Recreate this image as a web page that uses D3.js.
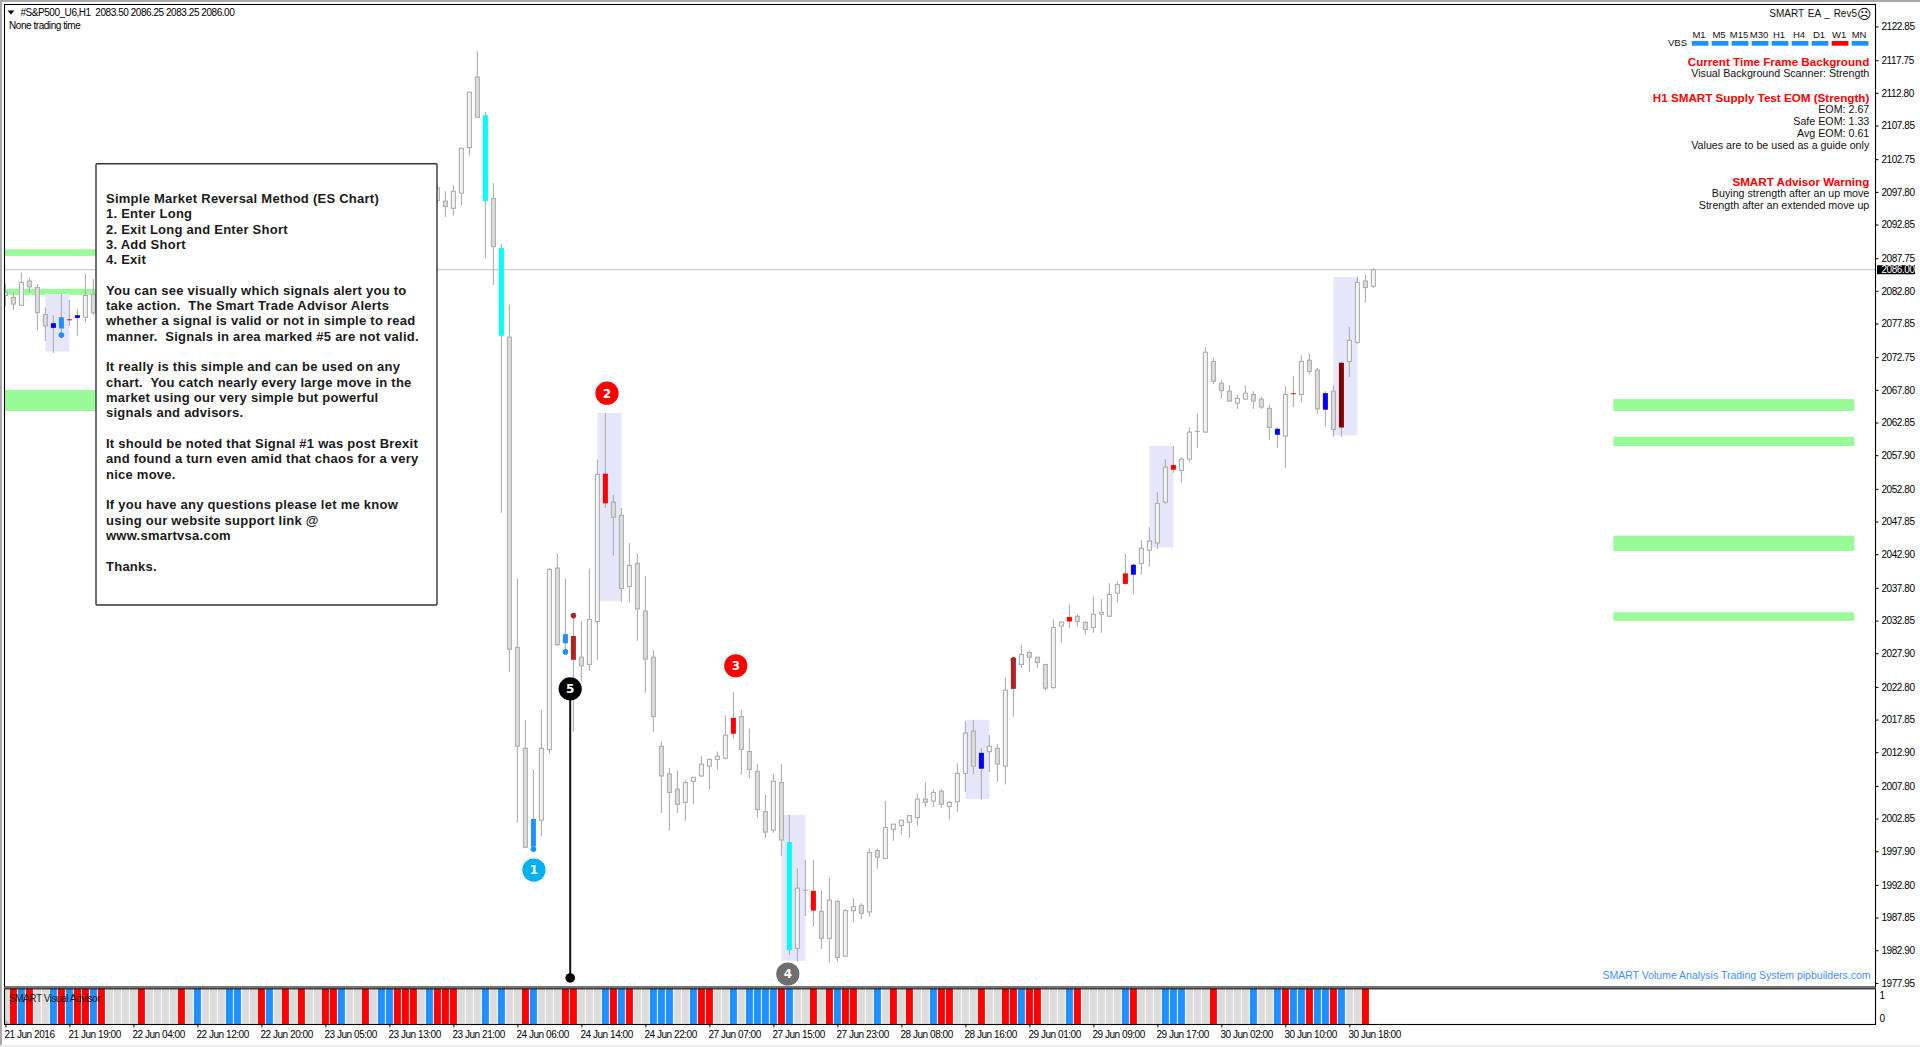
<!DOCTYPE html>
<html>
<head>
<meta charset="utf-8">
<title>#S&amp;P500_U6,H1</title>
<script src="https://cdn.jsdelivr.net/npm/d3@7"></script>
<style>
    html, body { margin: 0; padding: 0; background: #fff; }
    svg { display: block; font-family: "Liberation Sans", Arial, sans-serif; }
    .axis path { display: none; }
    .axis line { stroke: #000; }
    .axis text, .tight { fill: #000; font-size: 10px; letter-spacing: -0.45px; font-family: "Liberation Sans", Arial, sans-serif; }
</style>
</head>
<body>
<svg id="chart" width="1920" height="1047"></svg>
<script>
// DATA //

// Bars 12..53 sit behind the note box and could not be read
const barNumbers = d3.range(0, 12).concat(d3.range(54, 172));

const highs = [
    2083.8, 2082.6, 2085.6, 2084.7, 2083.8, 2080.3, 2079.1, 2082.3, 2081.4, 2080.0, 2085.4, 2084.6,
    2098.7, 2097.9, 2098.8, 2104.5, 2112.9, 2119.1, 2109.9, 2099.1, 2089.9, 2080.7,
    2039.2, 2017.8, 2010.3, 2019.3, 2040.8, 2043.0, 2039.2, 2033.6, 2032.8, 2040.7,
    2057.3, 2064.3, 2051.9, 2049.9, 2044.6, 2043.0, 2039.6, 2028.4, 2014.6, 2010.5,
    2010.1, 2008.6, 2009.1, 2012.3, 2012.0, 2013.0, 2018.5, 2022.0, 2019.3, 2016.5,
    2011.1, 2006.5, 2009.6, 2011.1, 2003.4, 1995.3, 1996.6, 1996.6, 1992.0, 1993.9,
    1990.5, 1989.2, 1990.8, 1990.0, 1998.3, 1998.3, 2005.5, 2002.0, 2002.6, 2003.4,
    2006.6, 2008.3, 2007.3, 2007.3, 2005.5, 2011.2, 2017.6, 2017.8, 2013.5, 2015.5,
    2014.1, 2024.3, 2027.3, 2029.2, 2028.3, 2027.3, 2026.2, 2033.0, 2032.7, 2035.3,
    2033.8, 2032.7, 2036.5, 2036.1, 2038.5, 2038.8, 2043.0, 2041.5, 2045.0, 2047.0,
    2052.3, 2057.3, 2059.3, 2057.6, 2062.1, 2064.3, 2074.3, 2072.6, 2069.3, 2068.5,
    2067.1, 2068.5, 2067.6, 2066.8, 2065.6, 2062.1, 2068.4, 2069.9, 2073.0, 2073.3,
    2071.1, 2067.6, 2068.5, 2072.1, 2077.3, 2084.9, 2085.3, 2086.25
];
const lows = [
    2080.5, 2079.9, 2080.6, 2082.5, 2076.8, 2075.2, 2073.4, 2076.1, 2077.5, 2076.0, 2078.0, 2079.1,
    2096.1, 2094.0, 2094.2, 2095.7, 2103.3, 2109.1, 2087.8, 2083.7, 2049.2, 2025.0,
    2002.2, 1998.4, 1998.2, 2000.2, 2012.7, 2029.0, 2028.1, 2016.0, 2023.6, 2025.2,
    2026.9, 2049.9, 2042.7, 2035.7, 2035.7, 2029.8, 2021.9, 2016.0, 2003.7, 2001.0,
    2003.7, 2002.5, 2005.0, 2009.2, 2007.2, 2010.3, 2011.8, 2014.9, 2009.5, 2009.0,
    2003.0, 1999.9, 2000.7, 1997.2, 1982.2, 1981.2, 1988.1, 1986.5, 1983.1, 1981.0,
    1981.2, 1981.9, 1987.2, 1987.6, 1988.0, 1995.3, 1996.8, 1999.5, 2000.4, 1999.9,
    2001.8, 2004.6, 2004.6, 2004.5, 2002.7, 2003.9, 2006.9, 2009.6, 2005.7, 2009.9,
    2008.4, 2008.0, 2018.3, 2025.7, 2025.0, 2025.7, 2022.2, 2022.5, 2029.5, 2031.7,
    2031.9, 2030.7, 2031.0, 2031.0, 2033.4, 2035.5, 2038.3, 2036.9, 2039.8, 2041.0,
    2043.7, 2050.5, 2055.3, 2053.7, 2056.9, 2059.0, 2061.3, 2068.7, 2066.5, 2066.0,
    2064.9, 2066.3, 2064.9, 2064.9, 2060.2, 2059.0, 2056.0, 2065.2, 2066.0, 2070.2,
    2064.2, 2062.2, 2060.7, 2060.7, 2069.8, 2074.8, 2081.0, 2083.25
];
const opens = [
    2082.6, 2081.8, 2080.6, 2084.3, 2083.3, 2079.2, 2077.9, 2078.8, 2078.5, 2079.1, 2078.8, 2082.3,
    2096.5, 2096.4, 2095.3, 2097.6, 2104.5, 2115.2, 2109.4, 2096.8, 2089.3, 2075.8,
    2028.8, 2013.5, 2002.8, 2002.6, 2013.3, 2040.8, 2030.8, 2030.5, 2027.3, 2026.2,
    2032.7, 2055.1, 2050.8, 2048.8, 2038.0, 2041.5, 2034.3, 2027.3, 2013.8, 2009.6,
    2007.3, 2005.3, 2008.5, 2009.3, 2010.8, 2011.8, 2012.0, 2018.1, 2018.3, 2013.0,
    2010.0, 2003.9, 2001.1, 2008.3, 1999.3, 1983.2, 1992.0, 1991.9, 1988.8, 1984.7,
    1990.3, 1982.0, 1988.9, 1989.7, 1988.7, 1998.0, 1996.8, 2001.2, 2001.8, 2002.3,
    2003.0, 2005.8, 2005.5, 2007.0, 2004.7, 2005.4, 2009.7, 2016.1, 2012.8, 2013.0,
    2013.5, 2010.8, 2027.1, 2026.2, 2028.0, 2027.3, 2026.2, 2022.7, 2032.0, 2033.4,
    2033.5, 2032.6, 2031.8, 2033.8, 2033.5, 2037.0, 2040.0, 2041.3, 2041.5, 2043.5,
    2044.6, 2050.8, 2056.4, 2055.6, 2057.3, 2061.5, 2061.4, 2072.1, 2068.8, 2067.6,
    2065.8, 2066.4, 2067.1, 2066.4, 2065.0, 2061.9, 2060.8, 2067.3, 2067.1, 2072.3,
    2070.8, 2067.3, 2067.6, 2071.9, 2072.1, 2075.0, 2084.3, 2083.5
];
const closes = [
    2082.1, 2080.8, 2084.1, 2083.4, 2079.5, 2077.5, 2077.2, 2077.1, 2078.5, 2078.7, 2082.1, 2079.5,
    2098.4, 2095.6, 2097.9, 2104.4, 2112.9, 2109.1, 2096.4, 2089.5, 2076.0, 2028.5,
    2013.8, 1998.5, 1998.6, 2013.5, 2040.6, 2029.2, 2029.4, 2026.9, 2026.0, 2033.0,
    2055.0, 2050.6, 2048.5, 2037.7, 2041.2, 2034.6, 2027.0, 2018.3, 2009.3, 2006.8,
    2005.0, 2008.3, 2009.1, 2011.1, 2011.8, 2012.3, 2015.5, 2015.7, 2013.3, 2010.3,
    2004.2, 2000.8, 2008.5, 1999.6, 1982.9, 1992.3, 1992.0, 1988.9, 1984.7, 1990.5,
    1981.8, 1988.9, 1989.5, 1988.5, 1997.7, 1997.0, 2001.5, 2002.0, 2002.6, 2003.3,
    2005.8, 2005.3, 2006.8, 2005.0, 2005.3, 2009.7, 2015.8, 2010.8, 2010.4, 2013.8,
    2011.1, 2022.3, 2022.5, 2027.7, 2027.3, 2026.5, 2022.6, 2031.8, 2032.6, 2032.7,
    2032.7, 2031.5, 2033.8, 2034.1, 2036.8, 2038.3, 2038.4, 2039.8, 2043.8, 2044.9,
    2050.6, 2056.1, 2055.7, 2057.3, 2061.4, 2061.5, 2073.5, 2069.1, 2067.7, 2066.1,
    2066.5, 2067.3, 2066.1, 2065.2, 2062.1, 2061.0, 2067.1, 2067.3, 2072.1, 2070.6,
    2064.9, 2064.8, 2061.8, 2062.1, 2075.3, 2084.1, 2083.3, 2086.0
];

// Bars whose body carries a signal colour
const cyanBars = [60, 62, 98];
const redBars = [8, 75, 91, 101, 133, 140, 146, 161];
const blueBars = [6, 9, 122, 141, 159, 165];
const dodgerBars = [7, 66, 70];
const firebrickBars = [71, 126];
const maroonBars = [167];

const dotBars = [7, 66, 70, 71, 126];
const dotPrices = [2076.1, 1998.2, 2028.1, 2033.6, 2026.9];

// Lavender zones around the signals
const shadeStart = [5, 74, 97, 120, 143, 166];
const shadeEnd = [8, 77, 100, 123, 146, 169];
const shadeTop = [2082.3, 2064.3, 2003.4, 2017.8, 2059.3, 2084.9];
const shadeBottom = [2073.6, 2035.8, 1981.3, 2005.8, 2043.9, 2060.9];

// Green support and resistance zones
const zoneStart = [-1, -1, -1, 201, 201, 201, 201];
const zoneEnd = [12, 12, 12, 231.1, 231.1, 231.1, 231.1];
const zoneTop = [2089.1, 2083.1, 2067.8, 2066.4, 2060.7, 2045.7, 2034.1];
const zoneBottom = [2088.1, 2082.2, 2064.6, 2064.6, 2059.3, 2043.4, 2032.8];

// Numbered markers
const markerLabels = ['1', '2', '3', '4', '5'];
const markerBars = [66.07, 75.2, 91.3, 97.8, 70.6];
const markerPrices = [1995.05, 2067.3, 2026.0, 1979.3, 2022.5];
const invalidLineEnd = 1978.7;

const lastPrice = 2086;

const priceTicks = [
    2122.85, 2117.75, 2112.80, 2107.85, 2102.75, 2097.80, 2092.85, 2087.75, 2082.80, 2077.85,
    2072.75, 2067.80, 2062.85, 2057.90, 2052.80, 2047.85, 2042.90, 2037.80, 2032.85, 2027.90,
    2022.80, 2017.85, 2012.90, 2007.80, 2002.85, 1997.90, 1992.80, 1987.85, 1982.90, 1977.95
];
const timeLabels = [
    '21 Jun 2016', '21 Jun 19:00', '22 Jun 04:00', '22 Jun 12:00', '22 Jun 20:00', '23 Jun 05:00',
    '23 Jun 13:00', '23 Jun 21:00', '24 Jun 06:00', '24 Jun 14:00', '24 Jun 22:00', '27 Jun 07:00',
    '27 Jun 15:00', '27 Jun 23:00', '28 Jun 08:00', '28 Jun 16:00', '29 Jun 01:00', '29 Jun 09:00',
    '29 Jun 17:00', '30 Jun 02:00', '30 Jun 10:00', '30 Jun 18:00'
];
const timeTickBars = timeLabels.map((_, i) => i * 8);

// Lower panel: everything up to this bar is drawn, grey unless listed
const advisorLastBar = 170;
const advisorRed = [
    1, 3, 7, 9, 10, 12, 17, 22, 32, 35, 37, 40, 41, 45, 49, 50, 51, 54, 55, 56, 65, 70, 71, 76, 78, 87, 88,
    97, 101, 103, 105, 106, 111, 113, 117, 118, 122, 125, 126, 128, 129, 134, 141, 151, 160, 163, 166, 170
];
const advisorBlue = [
    2, 6, 8, 11, 24, 28, 29, 33, 42, 47, 48, 53, 60, 62, 66, 75, 77, 81, 82, 83, 86, 91, 93, 94, 95, 96,
    98, 104, 109, 116, 127, 133, 140, 145, 146, 147, 156, 159, 161, 162, 164, 165, 167
];
const advisorTicks = [1, 0];

const scannerFrames = ['M1', 'M5', 'M15', 'M30', 'H1', 'H4', 'D1', 'W1', 'MN'];
const scannerStates = ['up', 'up', 'up', 'up', 'up', 'up', 'up', 'down', 'up'];

const panelLines = [
    { text: 'Current Time Frame Background', alert: true },
    { text: 'Visual Background Scanner: Strength' },
    null,
    { text: 'H1 SMART Supply Test EOM (Strength)', alert: true },
    { text: 'EOM: 2.67' },
    { text: 'Safe EOM: 1.33' },
    { text: 'Avg EOM: 0.61' },
    { text: 'Values are to be used as a guide only' },
    null,
    null,
    { text: 'SMART Advisor Warning', alert: true },
    { text: 'Buying strength after an up move' },
    { text: 'Strength after an extended move up' }
];

const noteLines = [
    'Simple Market Reversal Method (ES Chart)',
    '1. Enter Long',
    '2. Exit Long and Enter Short',
    '3. Add Short',
    '4. Exit',
    '',
    'You can see visually which signals alert you to',
    'take action.  The Smart Trade Advisor Alerts',
    'whether a signal is valid or not in simple to read',
    'manner.  Signals in area marked #5 are not valid.',
    '',
    'It really is this simple and can be used on any',
    'chart.  You catch nearly every large move in the',
    'market using our very simple but powerful',
    'signals and advisors.',
    '',
    'It should be noted that Signal #1 was post Brexit',
    'and found a turn even amid that chaos for a very',
    'nice move.',
    '',
    'If you have any questions please let me know',
    'using our website support link @',
    'www.smartvsa.com',
    '',
    'Thanks.'
];

// MAIN //

const svg = d3.select('#chart');

const frame = { left: 4.5, right: 1875.5, top: 4.5, bottom: 987, lowerTop: 988.8, lowerBottom: 1024.5 };

const x = d3.scaleLinear().domain([0, 171]).range([5.4, 1373.4]);
const y = d3.scaleLinear().domain([2126.87, 1977.95]).range([0, 982.9]);
const advisorY = d3.scaleLinear().domain([1.26, -0.26]).range([frame.lowerTop, frame.lowerBottom]);

const signalColor = new Map();
const addSignal = (bars, color) => bars.forEach(b => signalColor.set(b, color));
addSignal(cyanBars, '#00ffff');
addSignal(redBars, '#ff0000');
addSignal(blueBars, '#0000ff');
addSignal(dodgerBars, '#1e90ff');
addSignal(firebrickBars, '#b22222');
addSignal(maroonBars, '#800000');

const candles = barNumbers.map((bar, i) => ({
    bar, high: highs[i], low: lows[i], open: opens[i], close: closes[i]
}));

// Window chrome
svg.append('rect').attr('width', 1920).attr('height', 2).attr('fill', '#a9a9a9');
svg.append('rect').attr('width', 2).attr('height', 1047).attr('fill', '#a9a9a9');
svg.append('rect').attr('y', 1045).attr('width', 1920).attr('height', 2).attr('fill', '#ececec');

svg.append('clipPath').attr('id', 'main-clip').append('rect')
    .attr('x', frame.left).attr('y', frame.top)
    .attr('width', frame.right - frame.left).attr('height', frame.bottom - frame.top);

const main = svg.append('g').attr('clip-path', 'url(#main-clip)');

// Green zones
main.append('g').selectAll('rect').data(zoneTop).join('rect')
    .attr('x', (_, i) => x(zoneStart[i]))
    .attr('width', (_, i) => x(zoneEnd[i]) - x(zoneStart[i]))
    .attr('y', d => y(d))
    .attr('height', (d, i) => y(zoneBottom[i]) - y(d))
    .attr('fill', '#98fb98');

// Lavender zones
main.append('g').selectAll('rect').data(shadeTop).join('rect')
    .attr('x', (_, i) => x(shadeStart[i]))
    .attr('width', (_, i) => x(shadeEnd[i]) - x(shadeStart[i]))
    .attr('y', d => y(d))
    .attr('height', (d, i) => y(shadeBottom[i]) - y(d))
    .attr('fill', '#e6e6fa');

// Last price line
main.append('line')
    .attr('x1', frame.left).attr('x2', frame.right)
    .attr('y1', y(lastPrice)).attr('y2', y(lastPrice))
    .attr('stroke', '#c0c0c0').attr('stroke-width', 1);

// Candles
const candle = main.append('g').selectAll('g').data(candles).join('g');

candle.append('line')
    .attr('x1', d => x(d.bar)).attr('x2', d => x(d.bar))
    .attr('y1', d => y(d.high)).attr('y2', d => y(d.low))
    .attr('stroke', '#aeaeae').attr('stroke-width', 1.1);

candle.append('rect')
    .attr('x', d => x(d.bar) - (signalColor.has(d.bar) ? 2.5 : 2))
    .attr('width', d => signalColor.has(d.bar) ? 5 : 4)
    .attr('y', d => y(Math.max(d.open, d.close)))
    .attr('height', d => Math.max(y(Math.min(d.open, d.close)) - y(Math.max(d.open, d.close)), signalColor.has(d.bar) ? 1 : 0.01))
    .attr('fill', d => signalColor.get(d.bar) || (d.close >= d.open && d.close !== d.open ? '#f5f5f5' : '#dcdcdc'))
    .attr('stroke', d => signalColor.has(d.bar) ? 'none' : '#aeaeae')
    .attr('stroke-width', 1.1);

// Signal dots
main.append('g').selectAll('circle').data(dotBars).join('circle')
    .attr('cx', d => x(d))
    .attr('cy', (_, i) => y(dotPrices[i]))
    .attr('r', 2.8)
    .attr('fill', d => signalColor.get(d) === '#b22222' ? '#a52a2a' : '#1e90ff');

// Invalid area marker line and its foot
main.append('line')
    .attr('x1', x(markerBars[4])).attr('x2', x(markerBars[4]))
    .attr('y1', y(markerPrices[4])).attr('y2', y(invalidLineEnd))
    .attr('stroke', '#111').attr('stroke-width', 2);
main.append('circle')
    .attr('cx', x(markerBars[4])).attr('cy', y(invalidLineEnd)).attr('r', 4.8).attr('fill', '#000');

// Numbered markers
const markerColor = d3.scaleOrdinal().domain(markerLabels).range(['#00b0f0', '#ff0000', '#ff0000', '#6e6e6e', '#000000']);
const marker = main.append('g').selectAll('g').data(markerLabels).join('g')
    .attr('transform', (_, i) => `translate(${x(markerBars[i])},${y(markerPrices[i])})`);
marker.append('circle').attr('r', 11.6).attr('fill', d => markerColor(d));
marker.append('text')
    .attr('text-anchor', 'middle').attr('dy', '0.36em')
    .attr('fill', '#fff').attr('font-size', 12).attr('font-weight', 'bold')
    .attr('font-family', '"DejaVu Sans"')
    .text(d => d);

// Note box
svg.append('rect')
    .attr('x', 96).attr('y', 163.7).attr('width', 341).attr('height', 441.3).attr('rx', 1)
    .attr('fill', '#fff').attr('stroke', '#333').attr('stroke-width', 1.4);
svg.append('g').selectAll('text').data(noteLines).join('text')
    .attr('x', 106)
    .attr('y', (_, i) => 198.3 + i * 15.33)
    .attr('dy', '0.35em')
    .attr('font-size', 13).attr('font-weight', 'bold').attr('fill', '#1a1a1a')
    .attr('letter-spacing', 0.25)
    .style('white-space', 'pre')
    .text(d => d);

// Header text
svg.append('path').attr('d', 'M7.5 10.5h7l-3.5 4z').attr('fill', '#000');
svg.append('text').attr('class', 'tight').attr('x', 20.4).attr('y', 12.7).attr('dy', '0.35em')
    .style('white-space', 'pre')
    .text('#S&P500_U6,H1  2083.50 2086.25 2083.25 2086.00');
svg.append('text').attr('class', 'tight').attr('x', 9).attr('y', 25.7).attr('dy', '0.35em')
    .text('None trading time');

// Top right panel
svg.append('text').attr('x', 1857).attr('y', 13.7).attr('dy', '0.35em').attr('text-anchor', 'end')
    .attr('font-size', 10).attr('fill', '#111').attr('word-spacing', 1).text('SMART EA _ Rev5');
svg.append('text').attr('x', 1864.3).attr('y', 13.7).attr('dy', '0.35em').attr('text-anchor', 'middle')
    .attr('font-size', 14).attr('font-family', '"DejaVu Sans"').attr('fill', '#111').text('\u2639');

const scanner = d3.scaleBand().domain(scannerFrames).range([1691.7, 1868.4]).paddingInner(0.165).paddingOuter(0);
svg.append('g').selectAll('rect').data(scannerFrames).join('rect')
    .attr('x', d => scanner(d)).attr('width', scanner.bandwidth())
    .attr('y', 41).attr('height', 4.7)
    .attr('fill', (_, i) => scannerStates[i] === 'up' ? '#1e90ff' : '#ff0000');
svg.append('g').selectAll('text').data(scannerFrames).join('text')
    .attr('x', d => scanner(d) + scanner.bandwidth() / 2 - 1)
    .attr('y', 35).attr('dy', '0.35em').attr('text-anchor', 'middle')
    .attr('font-size', 9.5).attr('fill', '#111').text(d => d);
svg.append('text').attr('x', 1687).attr('y', 43).attr('dy', '0.35em').attr('text-anchor', 'end')
    .attr('font-size', 9.5).attr('fill', '#111').text('VBS');

svg.append('g').selectAll('text').data(panelLines).join('text')
    .attr('x', 1869.3)
    .attr('y', (_, i) => 61.6 + i * 12)
    .attr('dy', '0.35em').attr('text-anchor', 'end')
    .attr('font-size', d => d && d.alert ? 11.65 : 10.7)
    .attr('font-weight', d => d && d.alert ? 'bold' : 'normal')
    .attr('fill', d => d && d.alert ? '#ff0000' : '#111')
    .text(d => d ? d.text : '');

svg.append('text').attr('x', 1870.5).attr('y', 975.5).attr('dy', '0.35em').attr('text-anchor', 'end')
    .attr('font-size', 10.5).attr('fill', '#3f8fff')
    .text('SMART Volume Analysis Trading System pipbuilders.com');

// Lower panel
svg.append('g').selectAll('rect').data(d3.range(0, advisorLastBar + 1)).join('rect')
    .attr('x', d => Math.max(x(d) - 3.5, frame.left))
    .attr('width', d => x(d) + 3.5 - Math.max(x(d) - 3.5, frame.left))
    .attr('y', advisorY(1.26))
    .attr('height', advisorY(-0.26) - advisorY(1.26))
    .attr('fill', d => advisorRed.includes(d) ? '#ff0000' : advisorBlue.includes(d) ? '#1e90ff' : '#dcdcdc');
svg.append('text').attr('class', 'tight').attr('x', 9).attr('y', 998).attr('dy', '0.35em')
    .attr('opacity', 0.85).text('SMART Visual Advisor');
svg.append('path').attr('d', 'M5 1024v-5l5 5z').attr('fill', '#bbb');

// Frames
[[frame.top, frame.bottom], [frame.lowerTop, frame.lowerBottom]].forEach(([t, b]) => {
    svg.append('rect')
        .attr('x', frame.left).attr('y', t)
        .attr('width', frame.right - frame.left).attr('height', b - t)
        .attr('fill', 'none').attr('stroke', '#000').attr('stroke-width', 1.1);
});

// Axes
svg.append('g').attr('class', 'axis')
    .attr('transform', `translate(${frame.right},0)`)
    .call(d3.axisRight(y).tickValues(priceTicks).tickSize(3).tickPadding(3).tickFormat(d3.format('.2f')));

svg.append('g').attr('class', 'axis')
    .attr('transform', `translate(${frame.right},0)`)
    .call(d3.axisRight(advisorY).tickValues(advisorTicks).tickSize(0).tickPadding(4).tickFormat(d3.format('d')));

svg.append('g').attr('class', 'axis')
    .attr('transform', `translate(0,${frame.lowerBottom})`)
    .call(d3.axisBottom(x).tickValues(timeTickBars).tickSize(3).tickPadding(3).tickFormat((_, i) => timeLabels[i]))
    .selectAll('text').attr('text-anchor', 'start').attr('dx', '-1.5');

// Last price tag
svg.append('rect').attr('x', 1877).attr('y', y(lastPrice) - 4.5).attr('width', 38).attr('height', 9).attr('fill', '#000');
svg.append('text').attr('class', 'tight').style('fill', '#fff')
    .attr('x', 1881.5).attr('y', y(lastPrice)).attr('dy', '0.35em')
    .text(d3.format('.2f')(lastPrice));
</script>
</body>
</html>
